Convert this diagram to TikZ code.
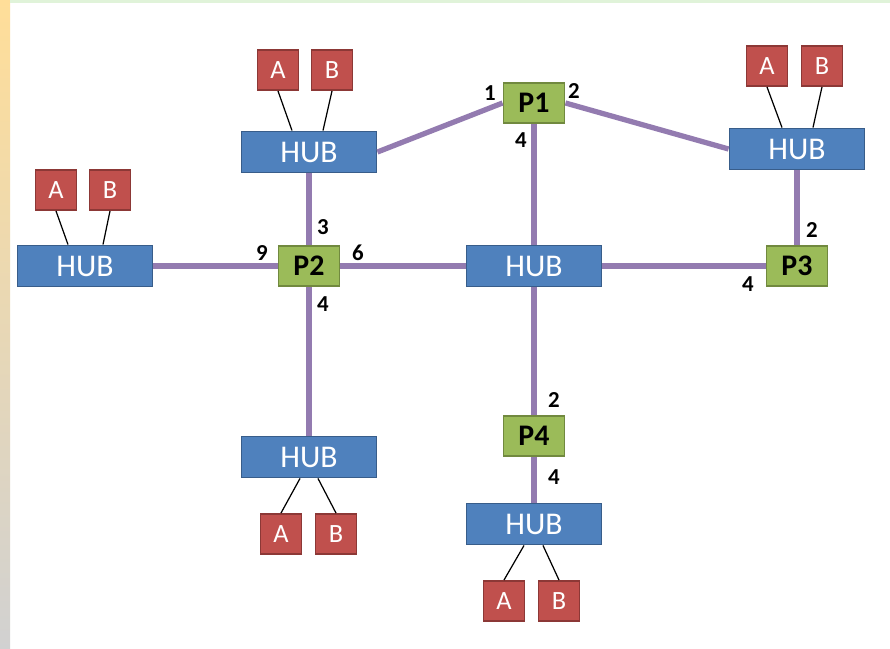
\documentclass[tikz,border=0pt]{standalone}
\usepackage{fontspec}
\setmainfont{Carlito}
\usetikzlibrary{positioning}

\definecolor{hubblue}{HTML}{4F81BD}
\definecolor{hubedge}{HTML}{385D8A}
\definecolor{pcred}{HTML}{C0504D}
\definecolor{pcedge}{HTML}{8C3836}
\definecolor{swgreen}{HTML}{9BBB59}
\definecolor{swedge}{HTML}{71893F}
\definecolor{linkpurple}{HTML}{8064A2}

\begin{document}
\begin{tikzpicture}[
  x = 0.02cm, y = -0.02cm,
  hub/.style={draw=hubedge, fill=hubblue, line width=1.1pt, text=white,
    minimum width=2.7cm, minimum height=0.82cm, inner sep=0pt,
    font=\fontsize{18}{18}\selectfont},
  sw/.style={draw=swedge, fill=swgreen, line width=1.1pt,
    minimum width=1.22cm, minimum height=0.8cm, inner sep=0pt,
    font=\fontsize{17}{17}\selectfont\bfseries},
  pc/.style={draw=pcedge, fill=pcred, line width=1.1pt, text=white,
    minimum width=0.82cm, minimum height=0.8cm, inner sep=0pt,
    font=\fontsize{15}{15}\selectfont},
  link/.style={linkpurple!85, line width=3pt},
  wire/.style={black, line width=0.7pt},
  port/.style={font=\fontsize{13}{13}\selectfont\bfseries, inner sep=0pt}
]
%background
\useasboundingbox (0,0) rectangle (890,649);
\fill[white] (0,0) rectangle (890,649);
\shade[top color=yellow!35!orange!40, middle color=yellow!25, bottom color=black!18] (0,0) rectangle (10,649);
\fill[yellow!20!green!15] (10,0) rectangle (890,3);

%hubs
\node[hub] (hubL)  at (85,266)  {HUB};
\node[hub] (hubTL) at (309,152) {HUB};
\node[hub] (hubTR) at (797,149) {HUB};
\node[hub] (hubC)  at (534,266) {HUB};
\node[hub] (hubBL) at (309,457) {HUB};
\node[hub] (hubBR) at (534,524) {HUB};

%switches
\node[sw] (p1) at (534,103) {P1};
\node[sw] (p2) at (309,266) {P2};
\node[sw] (p3) at (797,266) {P3};
\node[sw] (p4) at (534,436) {P4};

%hosts
\node[pc] (aL)  at (56,190)  {A};
\node[pc] (bL)  at (110,190) {B};
\node[pc] (aTL) at (278,70)  {A};
\node[pc] (bTL) at (332,70)  {B};
\node[pc] (aTR) at (767,66)  {A};
\node[pc] (bTR) at (822,66)  {B};
\node[pc] (aBL) at (281,534) {A};
\node[pc] (bBL) at (336,534) {B};
\node[pc] (aBR) at (504,601) {A};
\node[pc] (bBR) at (559,601) {B};

%links
\draw[link] (hubL.east) -- (p2.west);
\draw[link] (p2.east) -- (hubC.west);
\draw[link] (hubC.east) -- (p3.west);
\draw[link] (hubTL.south) -- (p2.north);
\draw[link] (p2.south) -- (hubBL.north);
\draw[link] (hubTL.east) -- (p1.west);
\draw[link] (p1.east) -- (hubTR.west);
\draw[link] (p1.south) -- (hubC.north);
\draw[link] (hubC.south) -- (p4.north);
\draw[link] (p4.south) -- (hubBR.north);
\draw[link] (hubTR.south) -- (p3.north);

%host wires
\draw[wire] (aL.south) -- ([xshift=-0.34cm]hubL.north);
\draw[wire] (bL.south) -- ([xshift=0.36cm]hubL.north);
\draw[wire] (aTL.south) -- ([xshift=-0.34cm]hubTL.north);
\draw[wire] (bTL.south) -- ([xshift=0.28cm]hubTL.north);
\draw[wire] (aTR.south) -- ([xshift=-0.3cm]hubTR.north);
\draw[wire] (bTR.south) -- ([xshift=0.32cm]hubTR.north);
\draw[wire] ([xshift=-0.18cm]hubBL.south) -- (aBL.north);
\draw[wire] ([xshift=0.18cm]hubBL.south) -- (bBL.north);
\draw[wire] ([xshift=-0.2cm]hubBR.south) -- (aBR.north);
\draw[wire] ([xshift=0.18cm]hubBR.south) -- (bBR.north);

%port numbers
\node[port] (p1a) at (490,93)  {1};
\node[port] (p1b) at (574,91)  {2};
\node[port] (p1c) at (521,140) {4};
\node[port] (p2a) at (323,227) {3};
\node[port] (p2b) at (262,253) {9};
\node[port] (p2c) at (358,253) {6};
\node[port] (p2d) at (323,304) {4};
\node[port] (p3a) at (812,230) {2};
\node[port] (p3b) at (748,284) {4};
\node[port] (p4a) at (554,400) {2};
\node[port] (p4b) at (554,477) {4};

\end{tikzpicture}
\end{document}
